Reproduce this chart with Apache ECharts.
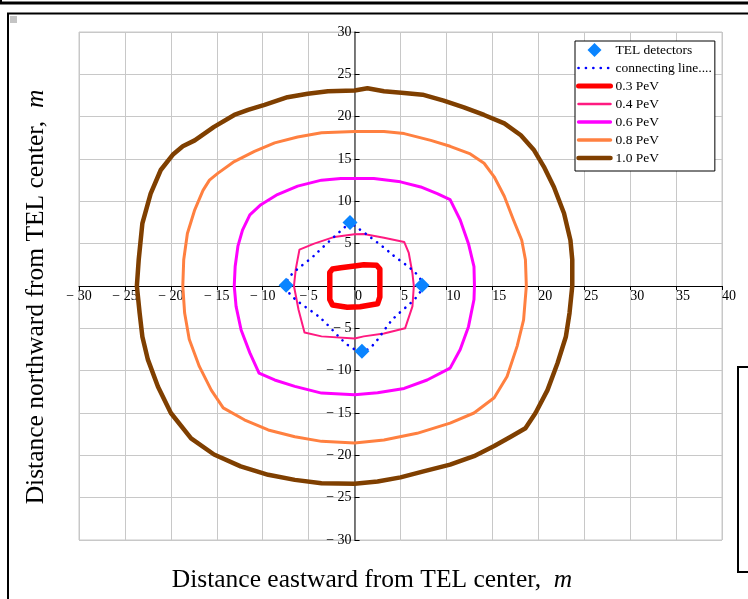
<!DOCTYPE html>
<html>
<head>
<meta charset="utf-8">
<script src="https://cdn.jsdelivr.net/npm/echarts@6/dist/echarts.min.js"></script>
<style>html,body{margin:0;padding:0;background:#fff;}#c{width:748px;height:599px;}</style>
</head>
<body>
<div id="c"></div>
<script>
// ---- data (metres, east = x, north = y) ----
const telDetectors = [[-0.5, 7.5], [7.35, 0.1], [0.8, -7.7], [-7.45, 0.1]];
const connectingLine = [[-0.5, 7.5], [-4.2, 3.8], [-7.45, 0.1], [-3.7, -3.8], [0.8, -7.7], [4.1, -4.0], [7.35, 0.1], [3.9, 3.9], [-0.5, 7.5]];
const pev03 = [[-2.7, 0], [-2.7, 1.6], [-2.4, 2.0], [-1.5, 2.15], [0, 2.35], [1.0, 2.5], [2.4, 2.45], [2.75, 2.0], [2.75, 0], [2.75, -1.3], [2.5, -2.1], [0.6, -2.45], [-0.8, -2.5], [-2.4, -2.25], [-2.7, -1.6], [-2.7, 0]];
const pev04 = [[-6.6, 0], [-6.4, 2.0], [-6.0, 4.3], [-4.4, 5.0], [-2.2, 5.8], [0, 6.1], [1.0, 6.15], [3.2, 5.7], [5.4, 5.2], [5.9, 3.9], [6.3, 1.5], [6.45, 0], [6.3, -2.4], [5.5, -5.0], [3.2, -5.6], [1.0, -5.95], [0, -6.2], [-3.6, -5.95], [-5.45, -5.5], [-6.1, -2.8], [-6.6, 0]];
const pev06 = [[-13.1, 0], [-13.0, 2.3], [-12.7, 4.7], [-12.2, 6.6], [-11.4, 8.4], [-10.2, 9.6], [-8.4, 10.8], [-6.2, 11.8], [-3.6, 12.5], [-1.5, 12.7], [0, 12.7], [2.1, 12.7], [5.0, 12.3], [7.2, 11.7], [9.0, 10.9], [10.4, 10.2], [11.5, 7.8], [12.4, 5.0], [13.0, 2.3], [13.05, 0], [13.0, -1.6], [12.4, -4.8], [11.5, -7.5], [10.4, -9.7], [7.9, -11.1], [5.4, -12.1], [2.5, -12.6], [0, -12.85], [-3.6, -12.65], [-6.5, -11.85], [-8.7, -11.1], [-10.4, -10.3], [-11.4, -7.9], [-12.35, -5.2], [-12.9, -2.4], [-13.1, 0]];
const pev08 = [[-18.7, 0], [-18.6, 3.1], [-18.2, 6.2], [-17.4, 9.0], [-16.5, 11.3], [-15.8, 12.5], [-14.9, 13.3], [-13.1, 14.7], [-10.9, 15.9], [-8.7, 16.9], [-6.2, 17.6], [-3.6, 18.1], [0, 18.25], [3.2, 18.25], [5.4, 18.0], [8.3, 17.2], [10.4, 16.5], [12.6, 15.6], [14.1, 14.5], [15.2, 12.9], [16.3, 10.6], [17.3, 7.8], [18.2, 5.4], [18.6, 3.1], [18.7, 0], [18.4, -4.0], [17.7, -7.1], [16.6, -10.7], [15.2, -13.2], [13.0, -15.0], [10.4, -16.2], [6.8, -17.4], [3.2, -18.2], [0, -18.55], [-3.6, -18.35], [-6.5, -17.8], [-9.4, -17.0], [-12.0, -15.8], [-14.3, -14.4], [-15.6, -12.3], [-16.9, -9.5], [-18.0, -6.3], [-18.5, -3.2], [-18.7, 0]];
const pev10 = [[-23.7, 0], [-23.5, 3.1], [-23.1, 7.4], [-22.2, 10.9], [-21.1, 13.7], [-19.8, 15.5], [-18.7, 16.5], [-17.4, 17.2], [-15.3, 18.8], [-13.1, 20.2], [-11.6, 20.8], [-9.8, 21.4], [-7.3, 22.3], [-5.1, 22.7], [-2.9, 23.0], [0, 23.1], [1.4, 23.35], [3.2, 23.0], [5.4, 22.8], [7.4, 22.6], [9.7, 21.9], [11.9, 21.1], [14.1, 20.2], [16.3, 19.2], [18.1, 17.8], [19.5, 16.1], [20.6, 14.1], [21.7, 11.7], [22.8, 8.6], [23.5, 5.4], [23.7, 3.1], [23.7, 0], [23.4, -3.2], [23.0, -6.0], [22.1, -9.1], [21.0, -12.3], [19.7, -15.0], [18.6, -16.8], [17.0, -17.8], [15.2, -18.9], [13.0, -20.1], [10.4, -21.1], [7.5, -21.9], [5.0, -22.6], [2.5, -23.1], [0, -23.35], [-3.6, -23.3], [-6.5, -22.9], [-9.4, -22.3], [-12.4, -21.3], [-15.3, -19.9], [-17.8, -18.0], [-20.0, -15.0], [-21.4, -11.9], [-22.5, -8.7], [-23.1, -6.0], [-23.4, -3.2], [-23.7, 0]];
const seriesNames = ['TEL detectors', 'connecting line....', '0.3 PeV', '0.4 PeV', '0.6 PeV', '0.8 PeV', '1.0 PeV'];
const xMin = -30, xMax = 40, yMin = -30, yMax = 30, tickStep = 5;
const xTitle = 'Distance eastward from TEL center,  ';
const yTitle = 'Distance northward from TEL center,  ';
const unitLabel = 'm';

const SERIF = 'Liberation Serif';
const GRID = {left: 79, top: 32, width: 643, height: 508};
// axes cross at the origin: shift each axis from its grid edge to the zero line
const xAxisOffset = -((0 - yMin) / (yMax - yMin)) * GRID.height;
const yAxisOffset = -((0 - xMin) / (xMax - xMin)) * GRID.width;

const chart = echarts.init(document.getElementById('c'), null, {renderer: 'canvas'});

const styles = [
  {color: '#0a84ff'},
  {color: '#0000ff', width: 2.6, legendWidth: 2.6},
  {color: '#ff0000', width: 5.5, legendWidth: 5},
  {color: '#ff1a80', width: 2, legendWidth: 2.5},
  {color: '#ff00ff', width: 3, legendWidth: 3.3},
  {color: '#ff8040', width: 3, legendWidth: 3.5},
  {color: '#7f3f00', width: 4.5, legendWidth: 4.5}
];

function contour(i, data) {
  const s = styles[i];
  return {name: seriesNames[i], type: 'line', data, symbol: 'none', smooth: false, z: 3,
    lineStyle: {color: s.color, width: s.width, cap: 'round', join: 'round'}, itemStyle: {color: s.color}};
}

const legendData = seriesNames.map((n, i) => i === 0
  ? {name: n, icon: 'path://M0,-1L1,0L0,1L-1,0Z'}
  : (i === 1
    ? {name: n, itemStyle: {opacity: 0}, lineStyle: {width: styles[i].legendWidth, type: [0.1, 7.3], cap: 'round'}}
    : {name: n, itemStyle: {opacity: 0}, lineStyle: {width: styles[i].legendWidth, cap: 'round'}}));

chart.setOption({
  animation: false,
  backgroundColor: '#fff',
  grid: Object.assign({show: true, borderColor: '#c8c8c8', borderWidth: 1, backgroundColor: 'transparent'}, GRID),
  xAxis: {
    type: 'value', min: xMin, max: xMax, interval: tickStep, position: 'bottom', offset: xAxisOffset,
    axisLine: {onZero: false, lineStyle: {color: '#000', width: 1}},
    axisTick: {show: true, length: 4, lineStyle: {color: '#000'}},
    splitLine: {show: true, lineStyle: {color: '#c8c8c8', width: 1}},
    axisLabel: {
      fontFamily: SERIF, fontSize: 14, color: '#000', margin: 3, align: 'center',
      formatter: v => v < 0 ? '− ' + (-v) : '{p' + String(v).length + '| }' + v,
      rich: {p1: {width: 8, fontFamily: SERIF, fontSize: 14}, p2: {width: 14, fontFamily: SERIF, fontSize: 14}}
    }
  },
  yAxis: {
    type: 'value', min: yMin, max: yMax, interval: tickStep, position: 'left', offset: yAxisOffset,
    axisLine: {onZero: false, lineStyle: {color: '#555', width: 1.5}},
    axisTick: {show: true, inside: true, length: 5, lineStyle: {color: '#000'}},
    splitLine: {show: true, lineStyle: {color: '#c8c8c8', width: 1}},
    axisLabel: {
      fontFamily: SERIF, fontSize: 14, color: '#000', margin: 3,
      formatter: v => v === 0 ? '' : (v < 0 ? '− ' + (-v) : '' + v)
    }
  },
  legend: {
    orient: 'vertical', left: 575, top: 41,
    data: legendData,
    itemWidth: 32, itemHeight: 14, itemGap: 4,
    symbolKeepAspect: true,
    padding: [2, 3, 6, 1],
    borderColor: '#000', borderWidth: 1, backgroundColor: '#fff',
    textStyle: {fontFamily: SERIF, fontSize: 13.5, color: '#000'}
  },
  series: [
    {name: seriesNames[0], type: 'scatter', data: telDetectors, symbol: 'diamond', symbolSize: 15, z: 5,
      itemStyle: {color: styles[0].color, opacity: 1}},
    {name: seriesNames[1], type: 'line', data: connectingLine, symbol: 'none', smooth: 0.35, z: 4,
      lineStyle: {color: styles[1].color, width: styles[1].width, type: [0.1, 7], cap: 'round'}, itemStyle: {color: styles[1].color}},
    contour(2, pev03),
    contour(3, pev04),
    contour(4, pev06),
    contour(5, pev08),
    contour(6, pev10)
  ],
  graphic: [
    {type: 'line', shape: {x1: 0, y1: 3, x2: 748, y2: 3}, style: {stroke: '#000', lineWidth: 3}, silent: true},
    {type: 'line', shape: {x1: 1, y1: 0, x2: 1, y2: 4}, style: {stroke: '#000', lineWidth: 2}, silent: true},
    {type: 'polyline', shape: {points: [[748, 13.5], [8, 13.5], [8, 599]]}, style: {stroke: '#000', lineWidth: 2, fill: null}, silent: true},
    {type: 'rect', shape: {x: 10, y: 16, width: 7, height: 7}, style: {fill: '#c4c4c4'}, silent: true},
    {type: 'rect', shape: {x: 738, y: 367, width: 30, height: 205}, style: {stroke: '#000', lineWidth: 2, fill: '#fff'}, silent: true},
    {type: 'text', x: 372, y: 580, silent: true,
      style: {text: xTitle + '{i|' + unitLabel + '}', fontFamily: SERIF, fontSize: 25.5, fill: '#000', align: 'center', verticalAlign: 'middle',
        rich: {i: {fontStyle: 'italic', fontFamily: SERIF, fontSize: 25.5, fill: '#000'}}}},
    {type: 'text', x: 36, y: 297, rotation: Math.PI / 2, silent: true,
      style: {text: yTitle + '{i|' + unitLabel + '}', fontFamily: SERIF, fontSize: 25.5, fill: '#000', align: 'center', verticalAlign: 'middle',
        rich: {i: {fontStyle: 'italic', fontFamily: SERIF, fontSize: 25.5, fill: '#000'}}}}
  ]
});
</script>
</body>
</html>
